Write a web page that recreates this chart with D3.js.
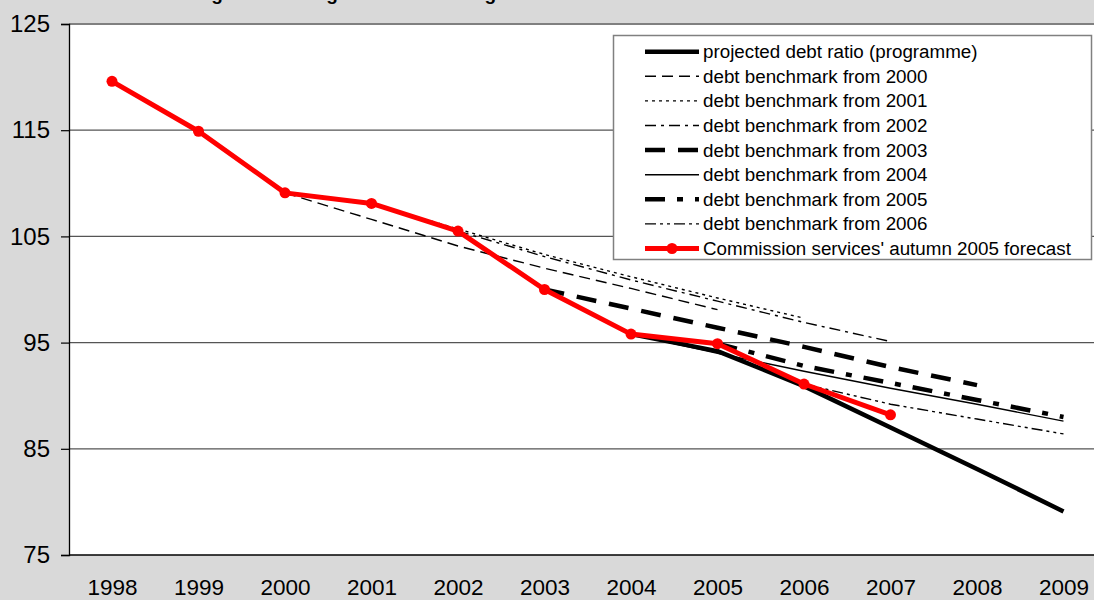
<!DOCTYPE html>
<html>
<head>
<meta charset="utf-8">
<script src="https://cdn.jsdelivr.net/npm/d3@7"></script>
<style>
  html, body { margin: 0; padding: 0; background: #D9D9D9; overflow: hidden; }
  svg { display: block; }
  text { font-family: "Liberation Sans", Arial, sans-serif; }
</style>
</head>
<body>
<svg id="chart" width="1094" height="600"></svg>
<script>
// ---- data ----
const years = [1998, 1999, 2000, 2001, 2002, 2003, 2004, 2005, 2006, 2007, 2008, 2009];
const yTicks = [75, 85, 95, 105, 115, 125];
const titleText = "Belgium: the targeted debt ratio against the debt benchmark";

const forecastYears = [1998, 1999, 2000, 2001, 2002, 2003, 2004, 2005, 2006, 2007];
const forecast      = [119.6, 114.9, 109.1, 108.1, 105.5, 100.0, 95.8, 94.9, 91.1, 88.2];

const programmeYears = [2004, 2005, 2006, 2007, 2008, 2009];
const programme      = [95.8, 94.2, 90.9, 87.0, 83.1, 79.1];

const bench2000Years = [2000, 2001, 2002, 2003, 2004, 2005];
const bench2000      = [109.1, 106.6, 104.1, 102.0, 100.1, 98.1];
const bench2001Years = [2001, 2002, 2003, 2004, 2005, 2006];
const bench2001      = [108.1, 105.7, 103.3, 101.2, 99.2, 97.3];
const bench2002Years = [2002, 2003, 2004, 2005, 2006, 2007];
const bench2002      = [105.5, 103.1, 100.9, 98.9, 96.9, 95.1];
const bench2003Years = [2003, 2004, 2005, 2006, 2007, 2008];
const bench2003      = [100.0, 98.2, 96.4, 94.6, 92.7, 91.0];
const bench2004Years = [2004, 2005, 2006, 2007, 2008, 2009];
const bench2004      = [95.8, 94.0, 92.3, 90.7, 89.2, 87.6];
const bench2005Years = [2005, 2006, 2007, 2008, 2009];
const bench2005      = [94.9, 92.8, 91.2, 89.6, 88.0];
const bench2006Years = [2006, 2007, 2008, 2009];
const bench2006      = [91.1, 89.2, 87.8, 86.4];

const seriesNames = [
  "projected debt ratio (programme)",
  "debt benchmark from 2000",
  "debt benchmark from 2001",
  "debt benchmark from 2002",
  "debt benchmark from 2003",
  "debt benchmark from 2004",
  "debt benchmark from 2005",
  "debt benchmark from 2006",
  "Commission services' autumn 2005 forecast"
];

// ---- styles ----
const styles = [
  { w: 4.5, dash: null },
  { w: 1.4, dash: "11,6" },
  { w: 1.4, dash: "3,4" },
  { w: 1.4, dash: "11,5,3,5" },
  { w: 4.5, dash: "20,13" },
  { w: 1.4, dash: null },
  { w: 4.5, dash: "20,12,6,12" },
  { w: 1.4, dash: "11,4,3,4,3,4" },
  { w: 5, dash: null, red: true }
];

const series = [
  [programmeYears, programme],
  [bench2000Years, bench2000],
  [bench2001Years, bench2001],
  [bench2002Years, bench2002],
  [bench2003Years, bench2003],
  [bench2004Years, bench2004],
  [bench2005Years, bench2005],
  [bench2006Years, bench2006],
  [forecastYears, forecast]
];

const svg = d3.select("#chart");
const W = 1094, H = 600;
const plotLeft = 69, plotTop = 24, plotBottom = 555;

const x = d3.scaleLinear().domain([1998, 2009]).range([112, 1063.5]);
const y = d3.scaleLinear().domain([75, 125]).range([plotBottom, plotTop]);

// title (mostly above the frame, as in the reference)
svg.append("text")
  .attr("x", 454).attr("y", 0)
  .attr("text-anchor", "middle")
  .attr("font-size", 19).attr("font-weight", "bold")
  .attr("fill", "#000")
  .text(titleText);

// plot area
svg.append("rect")
  .attr("x", plotLeft).attr("y", plotTop)
  .attr("width", W - plotLeft + 10).attr("height", plotBottom - plotTop)
  .attr("fill", "#fff");

// gridlines
svg.append("g").selectAll("line")
  .data(yTicks.filter(v => v > 75 && v < 125))
  .join("line")
  .attr("x1", plotLeft).attr("x2", W)
  .attr("y1", d => y(d)).attr("y2", d => y(d))
  .attr("stroke", "#555").attr("stroke-width", 1.2);

// top border
svg.append("line")
  .attr("x1", plotLeft).attr("x2", W)
  .attr("y1", y(125)).attr("y2", y(125))
  .attr("stroke", "#808080").attr("stroke-width", 2);

// y axis
const yAxis = svg.append("g")
  .attr("transform", `translate(${plotLeft},0)`)
  .call(d3.axisLeft(y).tickValues(yTicks).tickSize(8).tickPadding(11).tickFormat(d3.format("d")));
yAxis.select(".domain").attr("stroke", "#000").attr("stroke-width", 1.3);
yAxis.selectAll(".tick line").attr("stroke", "#000").attr("stroke-width", 1.2);
yAxis.selectAll(".tick text")
  .attr("font-size", 24).attr("fill", "#000")
  .attr("font-family", "'Liberation Sans', Arial, sans-serif");

// x axis
const xAxis = svg.append("g")
  .attr("transform", `translate(0,${plotBottom})`)
  .call(d3.axisBottom(x).tickValues(years).tickSize(0).tickFormat(d3.format("d")));
xAxis.select(".domain").remove();
xAxis.selectAll(".tick text")
  .attr("font-size", 22.5).attr("fill", "#000")
  .attr("font-family", "'Liberation Sans', Arial, sans-serif")
  .attr("dy", null)
  .attr("dominant-baseline", "alphabetic")
  .attr("y", 40);

svg.append("line")
  .attr("x1", plotLeft).attr("x2", W)
  .attr("y1", plotBottom).attr("y2", plotBottom)
  .attr("stroke", "#000").attr("stroke-width", 1.5);

// lines
const lineGen = d3.line().x(d => x(d[0])).y(d => y(d[1]));
const linesG = svg.append("g");
series.forEach((s, i) => {
  const pts = s[0].map((yr, k) => [yr, s[1][k]]);
  const st = styles[i];
  linesG.append("path")
    .datum(pts)
    .attr("d", lineGen)
    .attr("fill", "none")
    .attr("stroke", st.red ? "#FF0000" : "#000")
    .attr("stroke-width", st.w)
    .attr("stroke-dasharray", st.dash)
    .attr("stroke-linejoin", "round");
  if (st.red) {
    linesG.append("g").selectAll("circle")
      .data(pts).join("circle")
      .attr("cx", d => x(d[0])).attr("cy", d => y(d[1]))
      .attr("r", 5.5).attr("fill", "#FF0000");
  }
});

// legend
const lg = svg.append("g");
lg.append("rect")
  .attr("x", 613.5).attr("y", 35.5)
  .attr("width", 478).attr("height", 224)
  .attr("fill", "#fff").attr("stroke", "#808080").attr("stroke-width", 1.5);
seriesNames.forEach((name, i) => {
  const cy = 51.7 + i * 24.6;
  const st = styles[i];
  lg.append("line")
    .attr("x1", 645).attr("x2", 699)
    .attr("y1", cy).attr("y2", cy)
    .attr("stroke", st.red ? "#FF0000" : "#000")
    .attr("stroke-width", st.w)
    .attr("stroke-dasharray", st.dash);
  if (st.red) {
    lg.append("circle").attr("cx", 672).attr("cy", cy).attr("r", 5.5).attr("fill", "#FF0000");
  }
  lg.append("text")
    .attr("x", 703).attr("y", cy + 6.5)
    .attr("font-size", 18.8).attr("fill", "#000")
    .text(name);
});
</script>
</body>
</html>
